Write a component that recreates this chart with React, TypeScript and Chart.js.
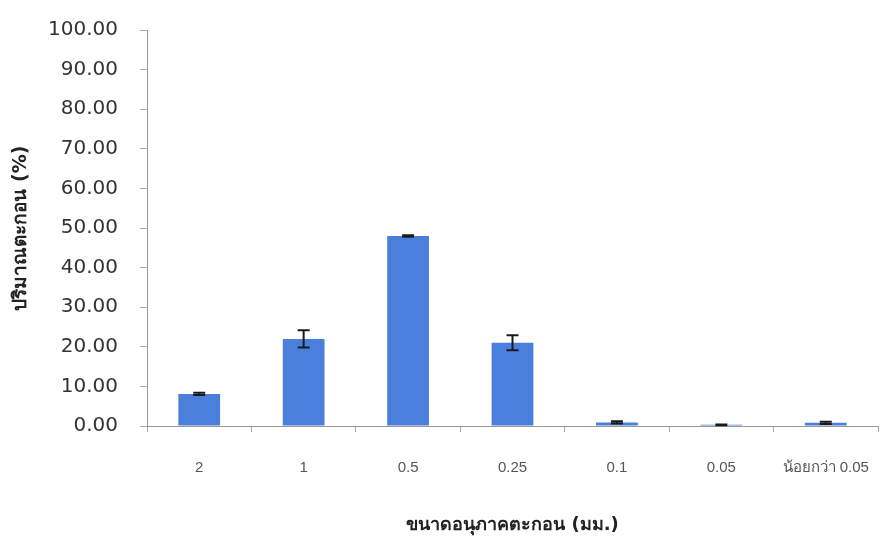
import React, { useEffect, useRef } from "react";
import { Chart, registerables } from "chart.js";

Chart.register(...registerables);

const categories = ["2", "1", "0.5", "0.25", "0.1", "0.05", "น้อยกว่า 0.05"];
const values = [8.1, 22.0, 48.0, 21.0, 0.9, 0.3, 0.8];
const errors = [0.3, 2.2, 0.2, 1.9, 0.3, 0.1, 0.3];
const yTitle = "ปริมาณตะกอน (%)";
const xTitle = "ขนาดอนุภาคตะกอน (มม.)";

const errorBarPlugin = {
  id: "errorBars",
  afterDatasetsDraw(chart: any) {
    const meta = chart.getDatasetMeta(0);
    const yScale = chart.scales.y;
    const ctx = chart.ctx;
    ctx.save();
    ctx.strokeStyle = "#1a1a1a";
    ctx.lineWidth = 2;
    meta.data.forEach((bar: any, i: number) => {
      const v = values[i];
      const e = errors[i];
      const yTop = yScale.getPixelForValue(v + e);
      const yBot = yScale.getPixelForValue(Math.max(0, v - e));
      const x = bar.x;
      const cap = 6;
      ctx.beginPath();
      ctx.moveTo(x, yTop);
      ctx.lineTo(x, yBot);
      ctx.moveTo(x - cap, yTop);
      ctx.lineTo(x + cap, yTop);
      ctx.moveTo(x - cap, yBot);
      ctx.lineTo(x + cap, yBot);
      ctx.stroke();
    });
    ctx.restore();
  },
};

export default function App() {
  const ref = useRef<HTMLCanvasElement | null>(null);
  useEffect(() => {
    if (!ref.current) return;
    const chart = new Chart(ref.current, {
      type: "bar",
      data: {
        labels: categories,
        datasets: [
          {
            data: values,
            backgroundColor: "#4a7fdc",
            borderWidth: 0,
            barPercentage: 0.8,
            categoryPercentage: 0.5,
          },
        ],
      },
      options: {
        responsive: false,
        animation: false,
        layout: { padding: { top: 30, right: 2, left: 0, bottom: 0 } },
        plugins: { legend: { display: false }, tooltip: { enabled: false } },
        scales: {
          x: {
            grid: {
              display: true,
              drawOnChartArea: false,
              drawTicks: true,
              tickLength: 6,
              color: "#aaa",
              offset: true,
            },
            border: { display: true, color: "#999", width: 1, dash: [2, 1] },
            ticks: {
              padding: 27,
              color: "#555",
              font: { family: "Liberation Sans, Arial, sans-serif", size: 15 },
              maxRotation: 0,
            },
            title: {
              display: true,
              text: xTitle,
              color: "#222",
              font: { family: "DejaVu Sans, sans-serif", size: 18, weight: "bold" },
              padding: { top: 2, bottom: 2 },
            },
            afterFit(scale: any) {
              scale.height = 538 - 426;
              scale.paddingLeft = 0;
              scale.paddingRight = 0;
            },
          },
          y: {
            min: 0,
            max: 100,
            grid: {
              display: true,
              drawOnChartArea: false,
              drawTicks: true,
              tickLength: 7,
              color: "#aaa",
            },
            border: { display: true, color: "#999", width: 1, dash: [2, 1] },
            ticks: {
              stepSize: 10,
              padding: 22,
              color: "#333",
              font: { family: "DejaVu Sans, sans-serif", size: 20 },
              callback: (v: any) => Number(v).toFixed(2),
            },
            title: {
              display: true,
              text: yTitle,
              color: "#222",
              font: { family: "DejaVu Sans, sans-serif", size: 19, weight: "bold" },
              padding: { top: 10, bottom: 0 },
            },
            afterFit(scale: any) {
              scale.width = 147;
              scale.paddingTop = 0;
              scale.paddingBottom = 0;
            },
          },
        },
      },
      plugins: [errorBarPlugin],
    });
    return () => chart.destroy();
  }, []);
  return (
    <div style={{ position: "fixed", left: 0, top: 0, width: 880, height: 538, background: "#fff" }}>
      <canvas ref={ref} width={880} height={538} style={{ display: "block" }} />
    </div>
  );
}
